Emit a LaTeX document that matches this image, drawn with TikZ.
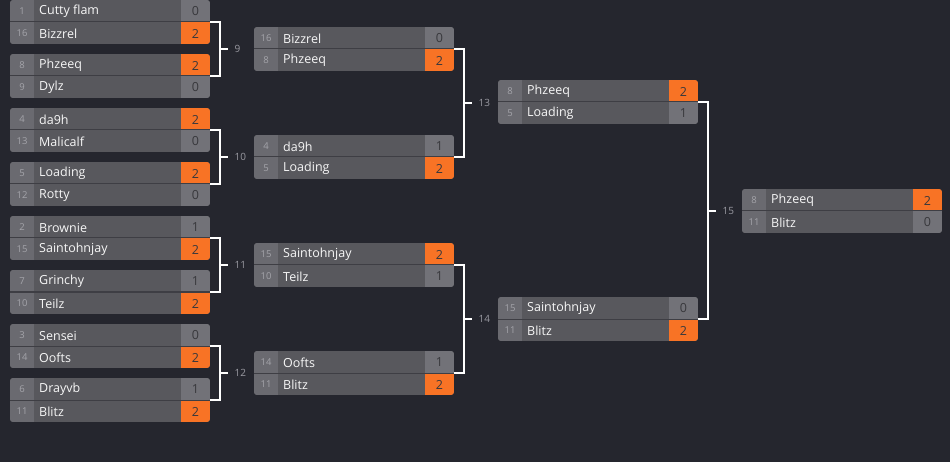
\documentclass[tikz,border=0pt]{standalone}
\usepackage{fontspec}
\setmainfont{Open Sans}
\usetikzlibrary{calc}
\definecolor{bg}{HTML}{25262E}
\definecolor{namecol}{HTML}{58585D}
\definecolor{seedcol}{HTML}{6A6A70}
\definecolor{scorecol}{HTML}{727278}
\definecolor{wincol}{HTML}{F87325}
\definecolor{divcol}{HTML}{3E3E44}
\definecolor{seedtxt}{HTML}{A4A4AA}
\definecolor{lbltxt}{HTML}{9A9AA2}
\definecolor{scoretxt}{HTML}{38383C}
\tikzset{
  seedlbl/.style={inner sep=0pt, text=seedtxt, font=\fontsize{9.5}{10}\selectfont},
  namelbl/.style={inner sep=0pt, anchor=west, text=white!94!gray, font=\fontsize{12.5}{14}\selectfont},
  scorelbl/.style={inner sep=0pt, text=scoretxt, font=\fontsize{12.5}{14}\selectfont},
  matchbox/.style={inner sep=0pt, minimum width=200pt, minimum height=44pt, anchor=north west},
  bk/.style={draw=white, line width=2pt},
  roundlbl/.style={anchor=west, inner sep=0pt, text=lbltxt, font=\fontsize{10}{12}\selectfont},
}
% #1 id, #2 x, #3 ytop, #4 seed1, #5 name1, #6 score1, #7 seed2, #8 name2, #9 score2
\newcommand\bmatch[9]{%
  \ifnum#6>#9\relax\def\colA{wincol}\def\colB{scorecol}\else\def\colA{scorecol}\def\colB{wincol}\fi
  \begin{scope}
    \clip[rounded corners=3pt] (#2,#3) rectangle ++(200,44);
    \fill[namecol] (#2,#3) rectangle ++(200,44);
    \fill[seedcol] (#2,#3) rectangle ++(24,44);
    \fill[\colA] (#2+171,#3) rectangle ++(29,22);
    \fill[\colB] (#2+171,#3+22) rectangle ++(29,22);
  \end{scope}
  \draw[divcol, line width=1pt] (#2,#3+22) -- ++(200,0);
  \node[seedlbl] (#1sa) at (#2+12,#3+11) {#4};
  \node[namelbl] (#1na) at (#2+29,#3+11.5) {#5};
  \node[scorelbl] (#1ca) at (#2+185.5,#3+11.5) {#6};
  \node[seedlbl] (#1sb) at (#2+12,#3+33) {#7};
  \node[namelbl] (#1nb) at (#2+29,#3+33.5) {#8};
  \node[scorelbl] (#1cb) at (#2+185.5,#3+33.5) {#9};
  \node[matchbox] (#1) at (#2,#3) {};
}
% #1 top match, #2 bottom match, #3 label
\newcommand\bbracket[3]{%
  \draw[bk] (#1.east) -- ++(10,0) |- (#2.east);
  \coordinate (k#3) at ($(#1.east)!0.5!(#2.east)+(10,0)$);
  \draw[bk] (k#3) -- ++(8,0) coordinate (t#3);
  \node[roundlbl] (l#3) at ($(t#3)+(6,0)$) {#3};
}
\begin{document}
\begin{tikzpicture}[x=1pt, y=-1pt]
\fill[bg] (0,0) rectangle (950,462);
\useasboundingbox (0,0) rectangle (950,462);
% round 1
\bmatch{m1}{10}{0}{1}{Cutty flam}{0}{16}{Bizzrel}{2}
\bmatch{m2}{10}{54}{8}{Phzeeq}{2}{9}{Dylz}{0}
\bmatch{m3}{10}{108}{4}{da9h}{2}{13}{Malicalf}{0}
\bmatch{m4}{10}{162}{5}{Loading}{2}{12}{Rotty}{0}
\bmatch{m5}{10}{216}{2}{Brownie}{1}{15}{Saintohnjay}{2}
\bmatch{m6}{10}{270}{7}{Grinchy}{1}{10}{Teilz}{2}
\bmatch{m7}{10}{324}{3}{Sensei}{0}{14}{Oofts}{2}
\bmatch{m8}{10}{378}{6}{Drayvb}{1}{11}{Blitz}{2}
% round 2
\bmatch{m9}{254}{27}{16}{Bizzrel}{0}{8}{Phzeeq}{2}
\bmatch{m10}{254}{135}{4}{da9h}{1}{5}{Loading}{2}
\bmatch{m11}{254}{243}{15}{Saintohnjay}{2}{10}{Teilz}{1}
\bmatch{m12}{254}{351}{14}{Oofts}{1}{11}{Blitz}{2}
% round 3
\bmatch{m13}{498}{80}{8}{Phzeeq}{2}{5}{Loading}{1}
\bmatch{m14}{498}{297}{15}{Saintohnjay}{0}{11}{Blitz}{2}
% final
\bmatch{m15}{742}{189}{8}{Phzeeq}{2}{11}{Blitz}{0}
% brackets
\bbracket{m1}{m2}{9}
\bbracket{m3}{m4}{10}
\bbracket{m5}{m6}{11}
\bbracket{m7}{m8}{12}
\bbracket{m9}{m10}{13}
\bbracket{m11}{m12}{14}
\bbracket{m13}{m14}{15}
\end{tikzpicture}
\end{document}
